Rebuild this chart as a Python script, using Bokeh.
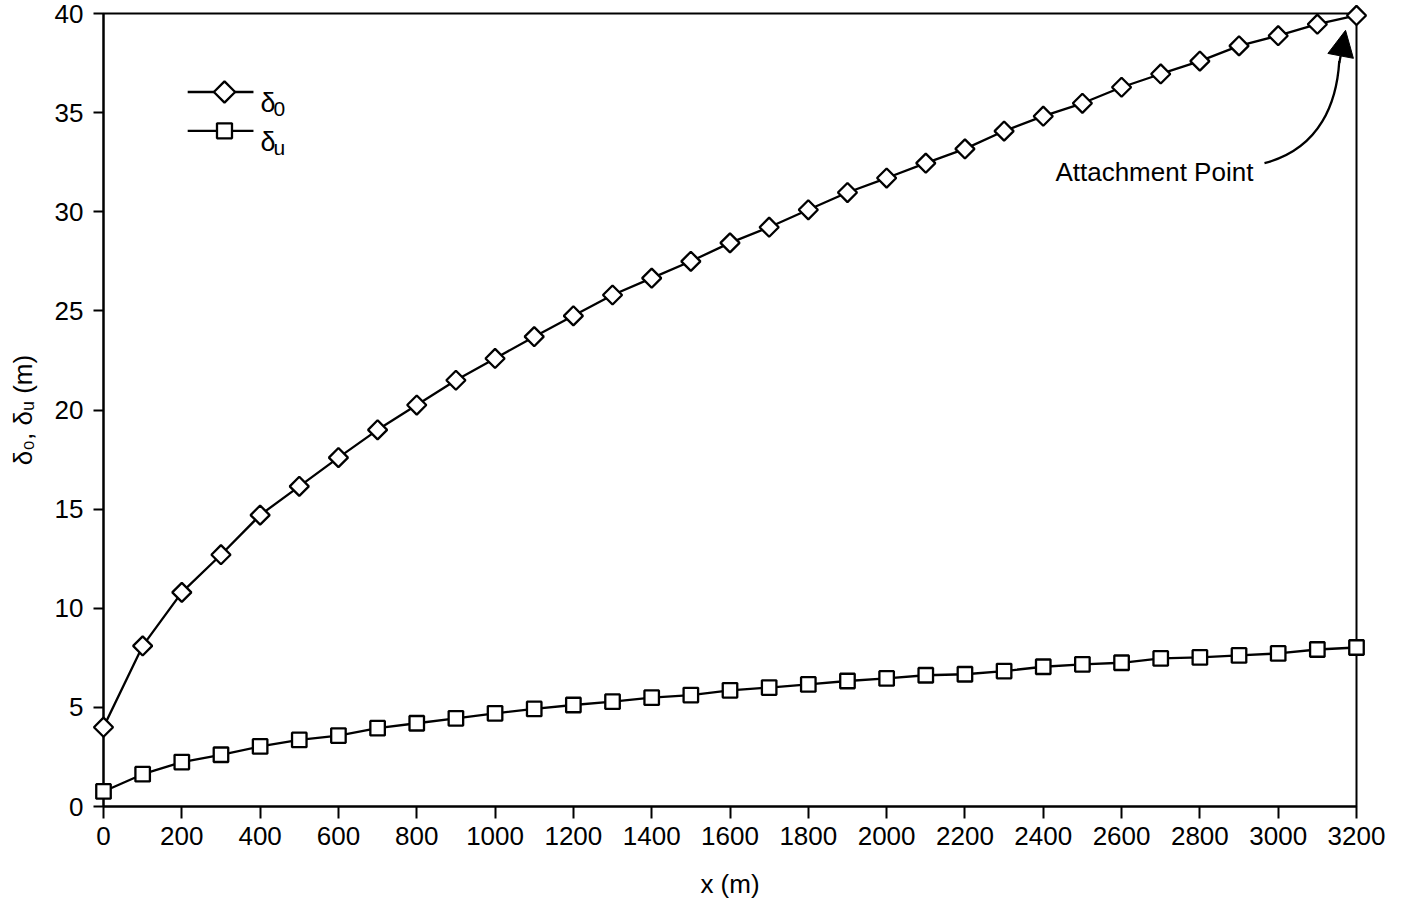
import numpy as np
from bokeh.plotting import figure
from bokeh.models import Range1d, FixedTicker, Label, Arrow, NormalHead
from bokeh.core.properties import value
from bokeh.embed import file_html
from bokeh.resources import INLINE

# ---- data ----
x_m = [0, 100, 200, 300, 400, 500, 600, 700, 800, 900, 1000, 1100, 1200, 1300,
       1400, 1500, 1600, 1700, 1800, 1900, 2000, 2100, 2200, 2300, 2400, 2500,
       2600, 2700, 2800, 2900, 3000, 3100, 3200]
delta_0 = [4.0, 8.1, 10.8, 12.7, 14.7, 16.15, 17.6, 19.0, 20.25, 21.5, 22.6,
           23.7, 24.75, 25.8, 26.65, 27.5, 28.43, 29.22, 30.1, 30.97, 31.7,
           32.45, 33.17, 34.07, 34.82, 35.47, 36.28, 36.95, 37.6, 38.37, 38.88,
           39.46, 39.9]
delta_u = [0.76, 1.63, 2.24, 2.61, 3.03, 3.36, 3.58, 3.95, 4.2, 4.45, 4.7,
           4.92, 5.12, 5.29, 5.49, 5.62, 5.86, 6.0, 6.16, 6.33, 6.46, 6.62,
           6.67, 6.83, 7.05, 7.17, 7.25, 7.47, 7.52, 7.62, 7.72, 7.92, 8.02]
x_ticks = list(range(0, 3201, 200))
y_ticks = list(range(0, 41, 5))
legend_symbols = ["δ", "δ"]
legend_subscripts = ["0", "u"]
annotation_text = "Attachment Point"

FONT = "Liberation Sans"
LW = 2.3

p = figure(width=1394, height=901, output_backend="svg", toolbar_location=None,
           x_range=Range1d(0, 3200), y_range=Range1d(0, 40),
           min_border_left=103, min_border_right=38, min_border_top=13,
           min_border_bottom=93)
p.grid.visible = False
p.background_fill_color = "white"
p.border_fill_color = "white"
p.outline_line_color = "black"
p.outline_line_width = 2

for ax in (p.xaxis[0], p.yaxis[0]):
    ax.axis_line_width = 2
    ax.axis_line_color = "black"
    ax.major_tick_line_width = 2
    ax.major_tick_line_color = "black"
    ax.major_tick_in = 0
    ax.minor_tick_line_color = None
    ax.major_label_text_font = FONT
    ax.major_label_text_font_size = "26px"
    ax.major_label_text_color = "black"
    ax.axis_label_text_font = FONT
    ax.axis_label_text_font_size = "26px"
    ax.axis_label_text_font_style = "normal"
    ax.axis_label_text_color = "black"

p.xaxis.ticker = FixedTicker(ticks=x_ticks)
p.yaxis.ticker = FixedTicker(ticks=y_ticks)
p.xaxis.major_tick_out = 12
p.yaxis.major_tick_out = 10
p.xaxis.major_label_standoff = 8
p.yaxis.major_label_standoff = 10
p.xaxis.axis_label = "x (m)"
p.yaxis.axis_label = "δ₀, δᵤ (m)"
p.xaxis.axis_label_standoff = 21
p.yaxis.axis_label_standoff = 14

p.line(x_m, delta_0, line_color="black", line_width=LW)
p.scatter(x_m, delta_0, marker="square", angle=np.pi / 4, size=13.5,
          fill_color="white", line_color="black", line_width=LW, level="overlay")
p.line(x_m, delta_u, line_color="black", line_width=LW)
p.scatter(x_m, delta_u, marker="square", size=14.5,
          fill_color="white", line_color="black", line_width=LW, level="overlay")

# ---- legend (drawn in the upper-left corner, as in the original) ----
leg_x0, leg_x1, leg_xm = 215, 383, 309
leg_rows = [36.04, 34.08]
leg_markers = [("square", np.pi / 4, 15), ("square", 0.0, 15)]
for row_y, (mk, ang, sz), sym, sub in zip(leg_rows, leg_markers,
                                          legend_symbols, legend_subscripts):
    p.line([leg_x0, leg_x1], [row_y, row_y], line_color="black", line_width=LW)
    p.scatter([leg_xm], [row_y], marker=mk, angle=ang, size=sz,
              fill_color="white", line_color="black", line_width=LW)
    p.text([401], [row_y], text=[sym], y_offset=11, text_font=value(FONT),
           text_font_size="27px", text_color="black",
           text_baseline="alphabetic", text_align="left")
    p.text([434], [row_y], text=[sub], y_offset=17, text_font=value(FONT),
           text_font_size="21px", text_color="black",
           text_baseline="alphabetic", text_align="left")

# ---- annotation: curved arrow to the attachment point ----
p.add_layout(Label(x=2431, y=32.0, text=annotation_text, text_font=FONT,
                   text_font_size="26px", text_color="black",
                   text_baseline="alphabetic"))
p.bezier(x0=[2965], y0=[32.45], x1=[3156], y1=[37.6],
         cx0=[3110], cy0=[33.2], cx1=[3150], cy1=[35.6],
         line_color="black", line_width=LW)
p.add_layout(Arrow(end=NormalHead(size=26, fill_color="black",
                                  line_color="black", line_width=1),
                   x_start=3156, y_start=37.5, x_end=3172, y_end=39.15,
                   line_color="black", line_width=LW))

open("out.html", "w").write(file_html(p, INLINE))
